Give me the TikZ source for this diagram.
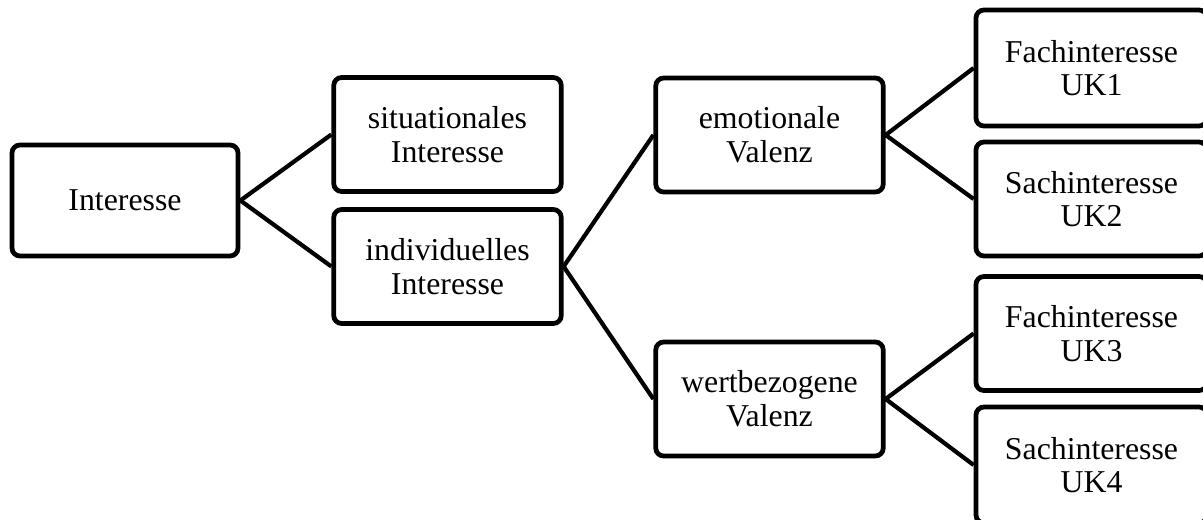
\documentclass[tikz,border=0pt]{standalone}
\usepackage{fontspec}
\setmainfont{Liberation Serif}
\usepackage{tikz}
\usetikzlibrary{positioning}
\newcommand{\boxfont}{\fontsize{18.1}{19.2}\selectfont}
\tikzset{
  ibox/.style={draw=black,line width=2.7pt,rounded corners=4.5pt,align=center,font=\boxfont,minimum width=4.55cm,minimum height=2.28cm,inner sep=3pt},
  link/.style={line width=2.4pt,color=black},
}
\begin{document}
\begin{tikzpicture}
  \clip (0,0) rectangle (24.06,10.38);
  % root
  \node[ibox,minimum width=4.52cm,minimum height=2.22cm] (int) at (2.50,6.37) {Interesse};
  % second level
  \node[ibox] (sit) at (8.95,7.69) {situationales\\Interesse};
  \node[ibox] (ind) at (8.95,5.05) {individuelles\\Interesse};
  % valence
  \node[ibox] (emo) at (15.39,7.68) {emotionale\\Valenz};
  \node[ibox] (wert) at (15.39,2.40) {wertbezogene\\Valenz};
  % subject areas
  \node[ibox,minimum width=4.62cm,minimum height=2.32cm] (fach1) at (21.83,9.02) {Fachinteresse\\UK1};
  \node[ibox,minimum width=4.62cm,minimum height=2.28cm] (sach2) at (21.83,6.40) {Sachinteresse\\UK2};
  \node[ibox,minimum width=4.62cm,minimum height=2.28cm] (fach3) at (21.83,3.71) {Fachinteresse\\UK3};
  \node[ibox,minimum width=4.62cm,minimum height=2.32cm] (sach4) at (21.83,1.08) {Sachinteresse\\UK4};
  \foreach \x in {sit,ind} \draw[link] (int.east) -- (\x.west);
  \foreach \x in {emo,wert} \draw[link] (ind.east) -- (\x.west);
  \foreach \x in {fach1,sach2} \draw[link] (emo.east) -- (\x.west);
  \foreach \x in {fach3,sach4} \draw[link] (wert.east) -- (\x.west);
\end{tikzpicture}
\end{document}
